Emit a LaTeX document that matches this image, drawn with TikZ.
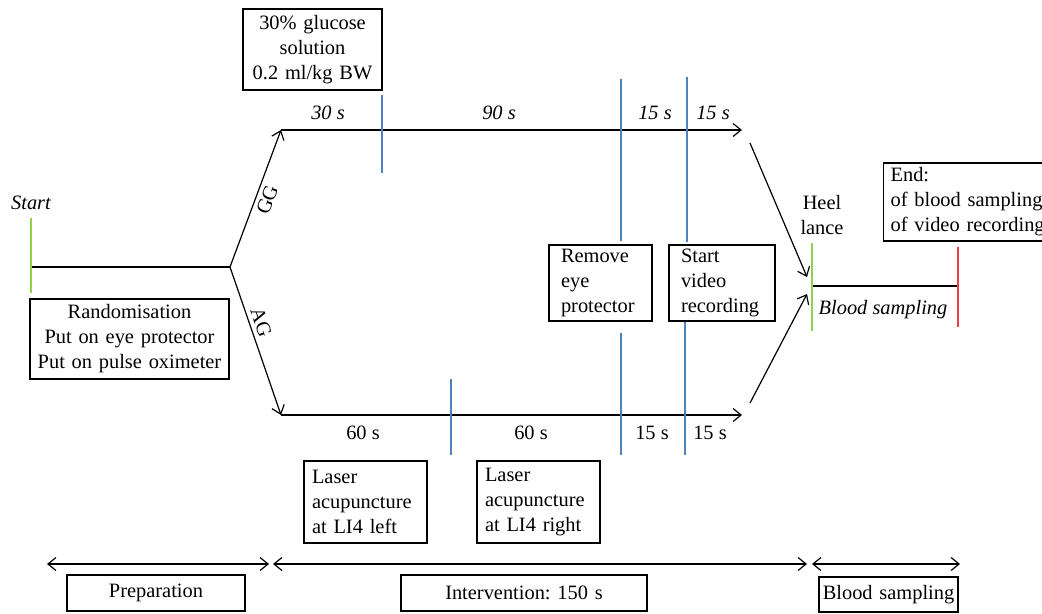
\documentclass[tikz,border=0pt]{standalone}
\usepackage{fontspec}
\setmainfont{Liberation Serif}
\usetikzlibrary{arrows.meta}
\definecolor{tickBlue}{HTML}{4F81BD}
\definecolor{startGreen}{HTML}{92D050}
\definecolor{endRed}{HTML}{F03C3C}
\frenchspacing
\tikzset{
	box/.style={draw, line width=0.6pt, inner xsep=3pt, inner ysep=0pt, minimum height=#1},
	box/.default=40pt,
	dur/.style={font=\fontsize{10.2}{12.5}\selectfont\itshape},
	tick/.style={draw=tickBlue, line width=0.7pt},
	mark green/.style={draw=startGreen, line width=0.8pt},
	mark red/.style={draw=endRed, line width=0.8pt}
}

\begin{document}
\begin{tikzpicture}[x=0.5pt, y=-0.5pt, >={Straight Barb[length=4pt,width=6.5pt]}, line width=0.6pt,
		every node/.style={font=\fontsize{10.2}{12.5}\selectfont}]
	\useasboundingbox (0,0) rectangle (1042,614);
	\clip (0,0) rectangle (1042,614);
	
	% time line
	\coordinate (start) at (31,267);
	\coordinate (split) at (230,267);
	\coordinate (gg) at (281,130);
	\coordinate (ggEnd) at (742,130);
	\coordinate (ag) at (281,415);
	\coordinate (agEnd) at (742,415);
	\coordinate (ggOut) at (750,143);
	\coordinate (agOut) at (750,403);
	\coordinate (heelIn1) at (807,277);
	\coordinate (heelIn2) at (807,294);
	\coordinate (heel) at (812,286);
	\coordinate (bsEnd) at (958,286);
	
	\draw (start) -- (split);
	\draw[->] (split) -- (gg) node[pos=0.52, sloped, below, inner sep=2pt] {GG};
	\draw[->] (split) -- (ag) node[pos=0.4, sloped, above, inner sep=2pt] {AG};
	\draw[->] (gg) -- (ggEnd);
	\draw[->] (ag) -- (agEnd);
	\draw[->] (ggOut) -- (heelIn1);
	\draw[->] (agOut) -- (heelIn2);
	\draw (heel) -- (bsEnd);
	
	\draw[mark green] (31,218) -- (31,293);
	\draw[mark green] (812,243) -- (812,331);
	\draw[mark red] (958,247) -- (958,327);
	
	\draw[tick] (382,95) -- (382,173);
	\draw[tick] (621,79) -- (621,241);
	\draw[tick] (687,77) -- (687,242);
	\draw[tick] (451,379) -- (451,455);
	\draw[tick] (621,333) -- (621,455);
	\draw[tick] (685,322) -- (685,455);
	
	\node (startLab) at (31,203) {\itshape Start};
	\node[align=center] (heelLab) at (822,215) {Heel\\lance};
	\node (bsLab) at (883,310) {\itshape Blood sampling};
	
	\node[dur] (d30) at (328,113) {30 s};
	\node[dur] (d90) at (499,113) {90 s};
	\node[dur] (d15a) at (655,113) {15 s};
	\node[dur] (d15b) at (713,113) {15 s};
	\node (d60a) at (363,433) {60 s};
	\node (d60b) at (531,433) {60 s};
	\node (d15c) at (652,433) {15 s};
	\node (d15d) at (710,433) {15 s};
	
	% boxes
	\node[box=40.5pt, text width=63.5pt, align=center] (glucose) at (312.5,49.5) {30\% glucose\\solution\\0.2 ml/kg BW};
	\node[box, text width=93.5pt, align=center] (random) at (129.5,339) {Randomisation\\Put on eye protector\\Put on pulse oximeter};
	\node[box=38pt, inner xsep=6pt, text width=39.5pt, align=left] (remove) at (600.5,283) {Remove\\eye\\protector};
	\node[box=38pt, inner xsep=6pt, text width=41pt, align=left] (video) at (722,283) {Start\\video\\recording};
	\node[box=41pt, inner xsep=4pt, text width=53.5pt, align=left] (laserL) at (365.5,502) {Laser\\acupuncture\\at LI4 left};
	\node[box=41pt, inner xsep=4pt, text width=53.5pt, align=left] (laserR) at (538.5,502) {Laser\\acupuncture\\at LI4 right};
	\node[box=39pt, inner xsep=3.5pt, text width=85pt, align=left, anchor=west] (end) at (883,202) {End:\\of blood sampling\\of video recording};
	
	% phases
	\coordinate (prepL) at (47,564);
	\coordinate (prepR) at (269,564);
	\coordinate (intL) at (273,564);
	\coordinate (intR) at (807,564);
	\coordinate (bsL) at (812,564);
	\coordinate (bsR) at (960,564);
	\draw[<->] (prepL) -- (prepR);
	\draw[<->] (intL) -- (intR);
	\draw[<->] (bsL) -- (bsR);
	\node[box=18pt, text width=83pt, align=center] (prep) at (156,593) {Preparation};
	\node[box=18pt, text width=117pt, align=center] (interv) at (524,593) {Intervention: 150 s};
	\node[box=17.5pt, inner xsep=1.5pt, text width=66.5pt, align=center] (bsBox) at (888.5,594.5) {Blood sampling};
\end{tikzpicture}
\end{document}
